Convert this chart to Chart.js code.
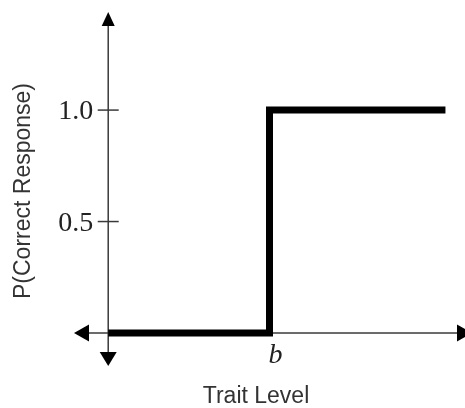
<!DOCTYPE html>
<html>
<head>
<meta charset="utf-8">
<title>Item characteristic curve</title>
<script src="https://cdn.jsdelivr.net/npm/chart.js@4/dist/chart.umd.min.js"></script>
<style>
  html, body { margin: 0; padding: 0; background: #fff; }
  canvas { display: block; }
</style>
</head>
<body>
<canvas id="icc" width="465" height="408"></canvas>
<script>
'use strict';

// step curve: P jumps from 0 to 1 at the threshold b
const traitLevel = [-3.3, 0, 0, 3.6];
const pCorrect = [0, 0, 1, 1];

const yTickValues = [0.5, 1.0];
const yTickLabels = ['0.5', '1.0'];
const thresholdValue = 0;
const thresholdLabel = 'b';
const yAxisAt = -3.3;
const xTitle = 'Trait Level';
const yTitle = 'P(Correct Response)';

const serif = '"Liberation Serif", "Times New Roman", serif';
const sans = '"Liberation Sans", Arial, Helvetica, sans-serif';

function strokeLine(ctx, x1, y1, x2, y2) {
    ctx.beginPath();
    ctx.moveTo(x1, y1);
    ctx.lineTo(x2, y2);
    ctx.stroke();
}

function fillTri(ctx, p1, p2, p3) {
    ctx.beginPath();
    ctx.moveTo(p1[0], p1[1]);
    ctx.lineTo(p2[0], p2[1]);
    ctx.lineTo(p3[0], p3[1]);
    ctx.closePath();
    ctx.fill();
}

// hand-drawn style axes: arrows on both ends, ticks crossing the axis
const arrowAxes = {
    id: 'arrowAxes',
    beforeDatasetsDraw(chart) {
        const ctx = chart.ctx;
        const area = chart.chartArea;
        const xs = chart.scales.x;
        const ys = chart.scales.y;
        const ax = xs.getPixelForValue(yAxisAt);
        const ay = ys.getPixelForValue(0);

        ctx.save();
        ctx.strokeStyle = '#3a3a3a';
        ctx.fillStyle = '#000';
        ctx.lineWidth = 1.5;

        strokeLine(ctx, ax, area.top + 14, ax, area.bottom - 14);
        strokeLine(ctx, area.left + 15, ay, area.right - 8, ay);

        fillTri(ctx, [ax, area.top], [ax - 6.5, area.top + 14], [ax + 6.5, area.top + 14]);
        fillTri(ctx, [ax, area.bottom], [ax - 8.5, area.bottom - 14], [ax + 8.5, area.bottom - 14]);
        fillTri(ctx, [area.left, ay], [area.left + 15, ay - 8.5], [area.left + 15, ay + 8.5]);
        fillTri(ctx, [area.right + 7, ay], [area.right - 8, ay - 8.5], [area.right - 8, ay + 8.5]);

        ctx.font = '28px ' + serif;
        ctx.textAlign = 'right';
        ctx.textBaseline = 'alphabetic';
        ctx.fillStyle = '#222';
        yTickValues.forEach((v, i) => {
            const ty = ys.getPixelForValue(v);
            strokeLine(ctx, ax - 10.5, ty, ax + 10.5, ty);
            ctx.fillText(yTickLabels[i], ax - 15, ty + 9);
        });

        ctx.font = 'italic 28px ' + serif;
        ctx.textAlign = 'left';
        ctx.fillText(thresholdLabel, xs.getPixelForValue(thresholdValue) - 1, ay + 30);

        ctx.fillStyle = '#333';
        ctx.font = '23px ' + sans;
        ctx.textAlign = 'center';
        ctx.textBaseline = 'middle';
        ctx.fillText(xTitle, 256, 397);

        ctx.translate(24, 191);
        ctx.rotate(-Math.PI / 2);
        ctx.fillText(yTitle, 0, 0);
        ctx.restore();
    }
};

const points = traitLevel.map((x, i) => ({ x: x, y: pCorrect[i] }));

new Chart(document.getElementById('icc'), {
    type: 'line',
    data: {
        datasets: [{
            data: points,
            borderColor: '#000',
            borderWidth: 7,
            borderCapStyle: 'butt',
            borderJoinStyle: 'miter',
            pointRadius: 0,
            tension: 0,
            fill: false,
        }],
    },
    options: {
        responsive: false,
        animation: false,
        layout: { padding: { left: 74, top: 12, right: 0, bottom: 42 } },
        plugins: {
            legend: { display: false },
            tooltip: { enabled: false },
        },
        scales: {
            x: { type: 'linear', min: -4, max: 4, display: false },
            y: { type: 'linear', min: -0.148, max: 1.44, display: false },
        },
    },
    plugins: [arrowAxes],
});
</script>
</body>
</html>
